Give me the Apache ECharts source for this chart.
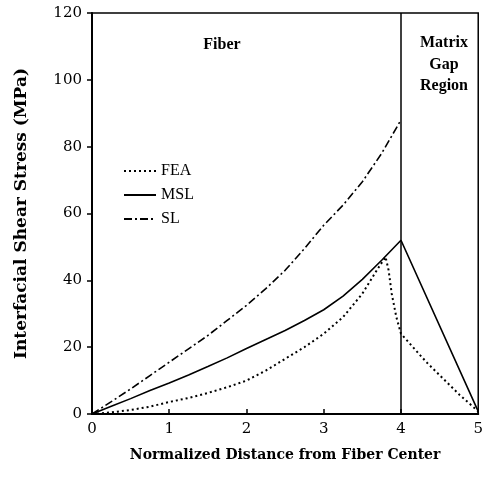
<!DOCTYPE html>
<html>
<head>
<meta charset="utf-8">
<script src="https://cdn.jsdelivr.net/npm/echarts@6/dist/echarts.min.js"></script>
<style>
  html, body { margin: 0; padding: 0; background: #fff; }
  #chart { width: 486px; height: 486px; }
</style>
</head>
<body>
<div id="chart"></div>
<script>
// values
const feaX = [0, 0.25, 0.5, 0.75, 1, 1.25, 1.5, 1.75, 2, 2.25, 2.5, 2.75, 3, 3.25, 3.5, 3.7, 3.8, 3.84, 3.88, 3.94, 4, 4.33, 4.76, 5];
const feaY = [0, 0.5, 1.2, 2.2, 3.6, 4.8, 6.3, 8, 10, 13, 16.5, 20, 24, 29, 36, 43.5, 47, 43, 36, 29, 24, 15.5, 5.7, 0.8];

const mslX = [0, 0.25, 0.5, 0.75, 1, 1.25, 1.5, 1.75, 2, 2.25, 2.5, 2.75, 3, 3.25, 3.5, 3.75, 4, 5];
const mslY = [0, 2.3, 4.6, 7, 9.3, 11.7, 14.2, 16.8, 19.6, 22.3, 25, 28, 31.2, 35.3, 40.3, 46, 52, 0.8];

const slX = [0, 0.25, 0.5, 0.75, 1, 1.25, 1.5, 1.75, 2, 2.25, 2.5, 2.75, 3, 3.25, 3.5, 3.75, 4];
const slY = [0, 3.7, 7.5, 11.5, 15.5, 19.5, 23.5, 28, 32.5, 37.5, 43, 49.5, 56.5, 62.5, 69.5, 78, 88];

const seriesNames = ["FEA", "MSL", "SL"];
const regionBoundary = 4;

const pairs = (xs, ys) => xs.map((x, i) => [x, ys[i]]);

const serif = "Liberation Serif";
const wideSerif = "DejaVu Serif";

// region captions inside the plot
const captionStyle = (text) => ({
  text,
  fontFamily: serif,
  fontSize: 16,
  fontWeight: "bold",
  fill: "#000",
  textAlign: "center",
  textVerticalAlign: "middle",
});

const chart = echarts.init(document.getElementById("chart"));

chart.setOption({
  backgroundColor: "#fff",
  animation: false,
  grid: {
    left: 92,
    right: 4,
    top: 13,
    bottom: 72,
    show: true,
    borderColor: "#000",
    borderWidth: 1.5,
  },
  legend: {
    data: seriesNames,
    orient: "vertical",
    left: 118,
    top: 158,
    itemWidth: 32,
    itemHeight: 10,
    itemGap: 8,
    itemStyle: { opacity: 0 },
    textStyle: { fontFamily: serif, fontSize: 16, color: "#000" },
  },
  xAxis: {
    type: "value",
    min: 0,
    max: 5,
    interval: 1,
    name: "Normalized Distance from Fiber Center",
    nameLocation: "middle",
    nameGap: 34,
    nameTextStyle: {
      fontFamily: wideSerif,
      fontSize: 14,
      fontWeight: "bold",
      color: "#000",
      verticalAlign: "top",
    },
    axisLine: { lineStyle: { color: "#000", width: 2 } },
    axisTick: { inside: true, length: 5, lineStyle: { color: "#000", width: 1.5 } },
    axisLabel: { fontFamily: wideSerif, fontSize: 15, color: "#000", margin: 8 },
    splitLine: { show: false },
  },
  yAxis: {
    type: "value",
    min: 0,
    max: 120,
    interval: 20,
    name: "Interfacial Shear Stress (MPa)",
    nameLocation: "middle",
    nameGap: 62,
    nameTextStyle: {
      fontFamily: wideSerif,
      fontSize: 17,
      fontWeight: "bold",
      color: "#000",
    },
    axisLine: { lineStyle: { color: "#000", width: 2 } },
    axisTick: { length: 5, lineStyle: { color: "#000", width: 1.5 } },
    axisLabel: { fontFamily: wideSerif, fontSize: 15, color: "#000", margin: 10 },
    splitLine: { show: false },
  },
  graphic: [
    { type: "text", x: 222, y: 45, style: captionStyle("Fiber") },
    { type: "text", x: 444, y: 43, style: captionStyle("Matrix") },
    { type: "text", x: 444, y: 65, style: captionStyle("Gap") },
    { type: "text", x: 444, y: 86, style: captionStyle("Region") },
  ],
  series: [
    {
      name: "FEA",
      type: "line",
      data: pairs(feaX, feaY),
      showSymbol: false,
      symbol: "none",
      lineStyle: { color: "#000", width: 2, type: [2, 3] },
      itemStyle: { color: "#000" },
    },
    {
      name: "MSL",
      type: "line",
      data: pairs(mslX, mslY),
      showSymbol: false,
      symbol: "none",
      lineStyle: { color: "#000", width: 1.6 },
      itemStyle: { color: "#000" },
      markLine: {
        silent: true,
        symbol: "none",
        label: { show: false },
        lineStyle: { color: "#000", width: 1.5, type: "solid" },
        data: [{ xAxis: regionBoundary }],
      },
    },
    {
      name: "SL",
      type: "line",
      data: pairs(slX, slY),
      showSymbol: false,
      symbol: "none",
      lineStyle: { color: "#000", width: 1.6, type: [8, 3, 2, 3] },
      itemStyle: { color: "#000" },
    },
  ],
});
</script>
</body>
</html>
